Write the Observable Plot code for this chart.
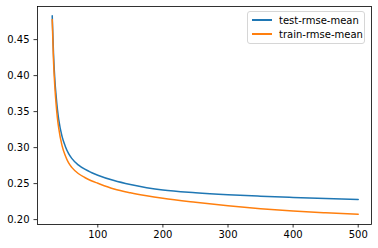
<!DOCTYPE html>
<html>
<head>
<meta charset="utf-8">
<script src="https://cdn.jsdelivr.net/npm/d3@7"></script>
<script src="https://cdn.jsdelivr.net/npm/@observablehq/plot@0.6"></script>
<style>
  html, body { margin: 0; padding: 0; background: #fff; }
  #wrap { position: relative; width: 378px; height: 248px; font-family: "DejaVu Sans", sans-serif; }
  #legend { position: absolute; left: 247px; top: 11px; width: 118px; height: 33px; box-sizing: border-box;
    border: 1px solid #d6d6d6; border-radius: 3px; background: rgba(255,255,255,0.8); font-size: 10px; color: #000; }
  .item { position: absolute; left: 4px; height: 12px; display: flex; align-items: center; white-space: nowrap; }
  .sw { width: 20px; height: 1.5px; margin-right: 7px; }
</style>
</head>
<body>
<div id="wrap"></div>
<script>
const rounds = [30, 32, 34, 36, 38, 40, 45, 50, 55, 60, 70, 80, 90, 100, 125, 150, 175, 200, 250, 300, 350, 400, 450, 500];
const testRmse = [0.483, 0.430, 0.395, 0.372, 0.353, 0.339, 0.316, 0.302, 0.292, 0.285, 0.2760, 0.2700, 0.2655, 0.2617, 0.2542, 0.2487, 0.2444, 0.2410, 0.2372, 0.2345, 0.2325, 0.2308, 0.2292, 0.2278];
const trainRmse = [0.478, 0.420, 0.385, 0.360, 0.341, 0.327, 0.303, 0.289, 0.279, 0.2725, 0.2640, 0.2585, 0.2540, 0.2505, 0.2425, 0.2372, 0.2330, 0.2295, 0.2240, 0.2192, 0.2152, 0.2120, 0.2095, 0.2074];
const seriesNames = ["test-rmse-mean", "train-rmse-mean"];
const seriesColors = ["#1f77b4", "#ff7f0e"];
const xTicks = [100, 200, 300, 400, 500];
const yTicks = [0.20, 0.25, 0.30, 0.35, 0.40, 0.45];

const rows = [];
rounds.forEach((r, i) => {
  rows.push({round: r, rmse: testRmse[i], series: seriesNames[0]});
  rows.push({round: r, rmse: trainRmse[i], series: seriesNames[1]});
});

const chart = Plot.plot({
  width: 378,
  height: 248,
  marginLeft: 37,
  marginRight: 7,
  marginTop: 6,
  marginBottom: 24,
  style: {fontFamily: "DejaVu Sans, sans-serif", fontSize: "10px", color: "#000", background: "#fff"},
  x: {domain: [7.4, 520.4]},
  y: {domain: [0.1932, 0.4960]},
  color: {domain: seriesNames, range: seriesColors},
  marks: [
    Plot.line(rows, {x: "round", y: "rmse", stroke: "series", strokeWidth: 1.5, curve: "monotone-x"}),
    Plot.frame({stroke: "#000", strokeWidth: 0.8}),
    Plot.axisX({ticks: xTicks, tickSize: 3.5, tickPadding: 3, label: null, stroke: "#000", strokeWidth: 0.8, fontSize: 10}),
    Plot.axisY({ticks: yTicks, tickSize: 3.5, tickPadding: 4.5, tickFormat: d3.format(".2f"), label: null, stroke: "#000", strokeWidth: 0.8, fontSize: 10})
  ]
});
const wrap = document.getElementById("wrap");
wrap.appendChild(chart);

const legend = document.createElement("div");
legend.id = "legend";
seriesNames.forEach((name, i) => {
  const item = document.createElement("div");
  item.className = "item";
  item.style.top = (2 + i * 14) + "px";
  const sw = document.createElement("div");
  sw.className = "sw";
  sw.style.background = seriesColors[i];
  const t = document.createElement("span");
  t.textContent = name;
  item.appendChild(sw);
  item.appendChild(t);
  legend.appendChild(item);
});
wrap.appendChild(legend);
</script>
</body>
</html>
